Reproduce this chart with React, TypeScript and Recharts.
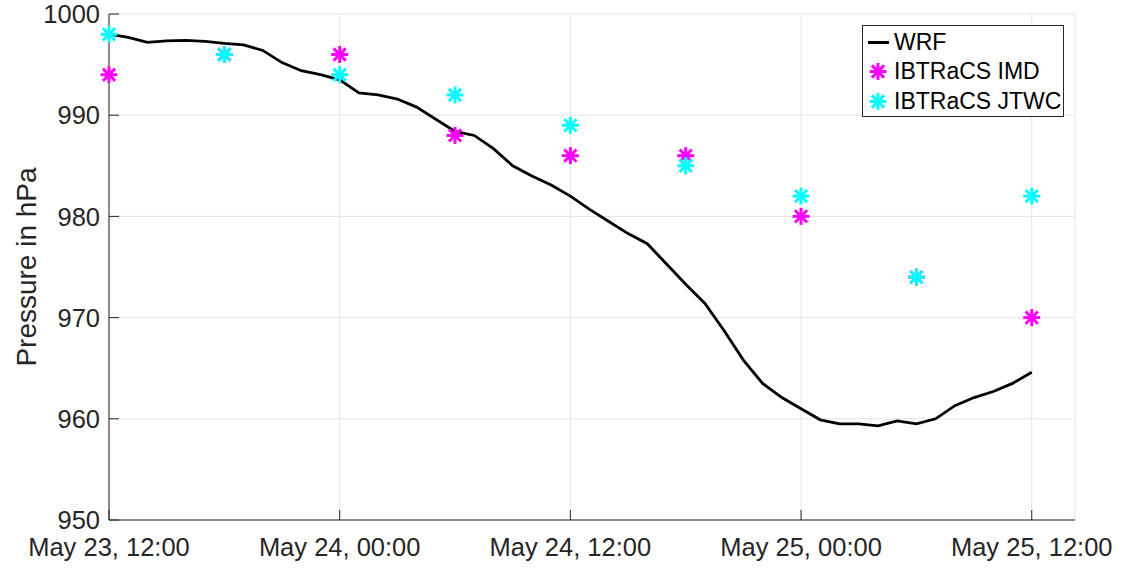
import { ComposedChart, Line, Scatter, XAxis, YAxis, CartesianGrid, Legend } from "recharts";

// WRF hourly minimum pressure (hours after May 23, 12:00)
const wrfHours = [
  0, 1, 2, 3, 4, 5, 6, 7, 8, 9, 10, 11, 12, 13, 14, 15, 16, 17, 18, 19, 20, 21, 22, 23, 24,
  25, 26, 27, 28, 29, 30, 31, 32, 33, 34, 35, 36, 37, 38, 39, 40, 41, 42, 43, 44, 45, 46, 47, 48,
];
const wrfPressure = [
  998.0, 997.7, 997.2, 997.35, 997.4, 997.3, 997.1, 996.95, 996.4, 995.2, 994.4, 994.0, 993.5,
  992.2, 992.0, 991.6, 990.8, 989.6, 988.4, 988.0, 986.7, 985.0, 984.0, 983.1, 982.0,
  980.7, 979.5, 978.3, 977.3, 975.3, 973.3, 971.4, 968.7, 965.8, 963.5, 962.1, 961.0,
  959.9, 959.5, 959.5, 959.3, 959.8, 959.5, 960.0, 961.3, 962.1, 962.7, 963.5, 964.6,
];

// best-track observations, 6-hourly
const obsHours = [0, 6, 12, 18, 24, 30, 36, 42, 48];
const imdPressure = [994, 996, 996, 988, 986, 986, 980, 974, 970];
const jtwcPressure = [998, 996, 994, 992, 989, 985, 982, 974, 982];

const tickHours = [0, 12, 24, 36, 48];
const tickLabels = ["May 23, 12:00", "May 24, 00:00", "May 24, 12:00", "May 25, 00:00", "May 25, 12:00"];
const pressureTicks = [950, 960, 970, 980, 990, 1000];

const wrfData = wrfHours.map((t, i) => ({ t, p: wrfPressure[i] }));
const imdData = obsHours.map((t, i) => ({ t, p: imdPressure[i] }));
const jtwcData = obsHours.map((t, i) => ({ t, p: jtwcPressure[i] }));

const FONT = '"Liberation Sans", Arial, Helvetica, sans-serif';
const AXIS = "#262626";
const MAGENTA = "#ff00ff";
const CYAN = "#00ffff";

const Star = ({ cx, cy, color, r = 8.5 }: any) => {
  const d = r * 0.72;
  return (
    <g stroke={color} strokeWidth={3} strokeLinecap="butt">
      <line x1={cx} y1={cy - r} x2={cx} y2={cy + r} />
      <line x1={cx - r} y1={cy} x2={cx + r} y2={cy} />
      <line x1={cx - d} y1={cy - d} x2={cx + d} y2={cy + d} />
      <line x1={cx - d} y1={cy + d} x2={cx + d} y2={cy - d} />
    </g>
  );
};

const BottomTick = ({ x, y, payload }: any) => {
  const i = tickHours.indexOf(payload.value);
  return (
    <g>
      <line x1={x} x2={x} y1={y} y2={y - 10} stroke={AXIS} />
      <text x={x} y={y + 36} textAnchor="middle" fontSize={25.5} fill={AXIS} fontFamily={FONT}>
        {tickLabels[i]}
      </text>
    </g>
  );
};

const TopTick = ({ x, y }: any) => <line x1={x} x2={x} y1={y} y2={y + 10} stroke={AXIS} />;

const LeftTick = ({ x, y, payload }: any) => (
  <g>
    <line x1={x} x2={x + 10} y1={y} y2={y} stroke={AXIS} />
    <text x={x - 9} y={y} dy="0.36em" textAnchor="end" fontSize={25.5} fill={AXIS} fontFamily={FONT}>
      {payload.value}
    </text>
  </g>
);

const RightTick = ({ x, y }: any) => <line x1={x - 10} x2={x} y1={y} y2={y} stroke={AXIS} />;

const YLabel = ({ viewBox }: any) => {
  const cy = viewBox.y + viewBox.height / 2;
  return (
    <text
      x={36}
      y={cy}
      transform={`rotate(-90, 36, ${cy})`}
      textAnchor="middle"
      fontSize={28}
      fill={AXIS}
      fontFamily={FONT}
    >
      Pressure in hPa
    </text>
  );
};

const legendItems = [
  { name: "WRF", kind: "line", color: "#000" },
  { name: "IBTRaCS IMD", kind: "star", color: MAGENTA },
  { name: "IBTRaCS JTWC", kind: "star", color: CYAN },
];

const LegendBox = () => (
  <div
    style={{
      border: `1px solid ${AXIS}`,
      background: "#fff",
      width: 202,
      height: 92,
      boxSizing: "border-box",
      paddingTop: 2,
      fontFamily: FONT,
      fontSize: 23,
      color: "#000",
    }}
  >
    {legendItems.map((item) => (
      <div key={item.name} style={{ display: "flex", alignItems: "center", height: 29.3 }}>
        <svg width={31} height={29} style={{ flex: "none" }}>
          {item.kind === "line" ? (
            <line x1={5} x2={26} y1={14.5} y2={14.5} stroke={item.color} strokeWidth={3} />
          ) : (
            <Star cx={15} cy={14.5} color={item.color} />
          )}
        </svg>
        <span style={{ whiteSpace: "nowrap", lineHeight: 1 }}>{item.name}</span>
      </div>
    ))}
  </div>
);

export default function App() {
  return (
    <div style={{ position: "absolute", left: 0, top: 0, background: "#fff" }}>
      <ComposedChart width={1122} height={569} margin={{ top: 14, right: 47, bottom: 0, left: 0 }}>
        <CartesianGrid stroke="#e4e4e4" strokeWidth={1} />
        <XAxis
          dataKey="t"
          type="number"
          domain={[0, 50.25]}
          ticks={tickHours}
          height={49}
          tickSize={0}
          tickMargin={0}
          tick={<BottomTick />}
          axisLine={{ stroke: AXIS }}
          tickLine={false}
        />
        <XAxis
          xAxisId="top"
          orientation="top"
          dataKey="t"
          type="number"
          domain={[0, 50.25]}
          allowDataOverflow
          ticks={tickHours}
          height={0}
          tickSize={0}
          tickMargin={0}
          tick={<TopTick />}
          axisLine={{ stroke: AXIS }}
          tickLine={false}
        />
        <YAxis
          dataKey="p"
          type="number"
          domain={[950, 1000]}
          ticks={pressureTicks}
          width={109}
          tickSize={0}
          tickMargin={0}
          tick={<LeftTick />}
          axisLine={{ stroke: AXIS }}
          tickLine={false}
          label={<YLabel />}
        />
        <YAxis
          yAxisId="right"
          orientation="right"
          dataKey="p"
          type="number"
          domain={[950, 1000]}
          allowDataOverflow
          ticks={pressureTicks}
          width={0}
          tickSize={0}
          tickMargin={0}
          tick={<RightTick />}
          axisLine={{ stroke: AXIS }}
          tickLine={false}
        />
        <Line
          data={wrfData}
          dataKey="p"
          name="WRF"
          stroke="#000"
          strokeWidth={2.8}
          dot={false}
          type="linear"
          isAnimationActive={false}
        />
        <Scatter
          data={imdData}
          dataKey="p"
          name="IBTRaCS IMD"
          shape={(props: any) => <Star cx={props.cx} cy={props.cy} color={MAGENTA} />}
          isAnimationActive={false}
        />
        <Scatter
          data={jtwcData}
          dataKey="p"
          name="IBTRaCS JTWC"
          shape={(props: any) => <Star cx={props.cx} cy={props.cy} color={CYAN} />}
          isAnimationActive={false}
        />
        <Legend
          layout="vertical"
          align="center"
          verticalAlign="middle"
          content={<LegendBox />}
          wrapperStyle={{ top: 25, left: 862, right: "auto", bottom: "auto", width: 202, height: 92 }}
        />
      </ComposedChart>
    </div>
  );
}
